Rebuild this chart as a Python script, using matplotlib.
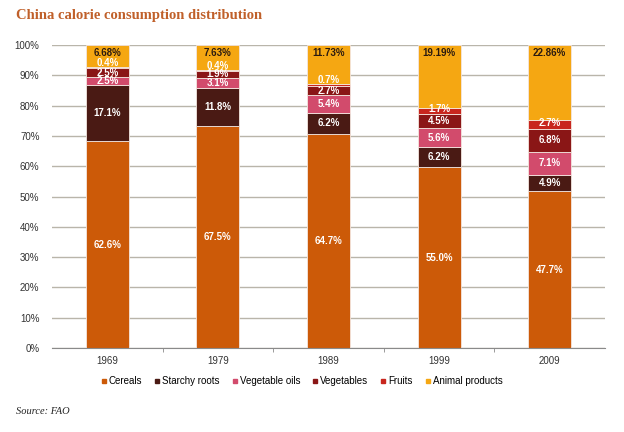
import matplotlib.pyplot as plt
import numpy as np
from matplotlib.lines import Line2D

plt.rcParams['font.family'] = ['Liberation Sans', 'DejaVu Sans']

years = ['1969', '1979', '1989', '1999', '2009']
categories = ['Cereals', 'Starchy roots', 'Vegetable oils', 'Vegetables', 'Fruits', 'Animal products']

cereals = [62.6, 67.5, 64.7, 55.0, 47.7]
starchy_roots = [17.1, 11.8, 6.2, 6.2, 4.9]
vegetable_oils = [2.5, 3.1, 5.4, 5.6, 7.1]
vegetables = [2.5, 1.9, 2.7, 4.5, 6.8]
fruits = [0.4, 0.4, 0.7, 1.7, 2.7]
animal_products = [6.68, 7.63, 11.73, 19.19, 22.86]

series = [cereals, starchy_roots, vegetable_oils, vegetables, fruits, animal_products]
colors = ['#CC5A08', '#4A1A14', '#D24B6C', '#8A1616', '#C8261E', '#F5A712']
labels_fmt = ['{:.1f}%'] * 5 + ['{:.2f}%']

fig = plt.figure(figsize=(6.24, 4.32), dpi=100)
ax = fig.add_axes([52 / 624, 1 - 348 / 432, 553 / 624, 303 / 432])

x = np.arange(len(years))
totals = np.sum(series, axis=0)
bottom = np.zeros(len(years))
for i, (vals, col) in enumerate(zip(series, colors)):
    share = np.array(vals) / totals * 100
    ax.bar(x, share, 0.39, bottom=bottom, color=col, edgecolor='#f4e6e0',
           linewidth=0.6, zorder=2)
    for j in range(len(years)):
        if i == 5:
            # animal products label sits near the top of the bar
            ax.annotate(labels_fmt[i].format(vals[j]), (x[j], 100), xytext=(0, -6),
                        textcoords='offset points', ha='center', va='center',
                        fontsize=7, fontweight='bold', color='#2a1a10', zorder=3)
        else:
            dy = 0
            if i == 4:
                dy = 3.5 if vals[j] < 1 else 1
            ax.annotate(labels_fmt[i].format(vals[j]), (x[j], bottom[j] + share[j] / 2),
                        xytext=(0, dy), textcoords='offset points', ha='center',
                        va='center', fontsize=7, fontweight='bold', color='white',
                        zorder=3)
    bottom += share

ax.set_xlim(-0.5, 4.5)
ax.set_ylim(0, 100)
ax.set_yticks(np.arange(0, 101, 10))
ax.set_yticklabels(['{}%'.format(v) for v in range(0, 101, 10)])
ax.set_xticks(x)
ax.set_xticklabels(years)
ax.set_xticks(np.arange(0.5, 4, 1), minor=True)
ax.tick_params(axis='x', which='major', length=0, pad=6, labelsize=7, colors='#333333')
ax.tick_params(axis='x', which='minor', length=3, color='#8a8a8a', direction='out')
ax.tick_params(axis='y', length=0, pad=9, labelsize=7, colors='#333333')
ax.yaxis.grid(True, color='#b9b5aa', linewidth=1, zorder=0)
ax.set_axisbelow(True)
for s in ['top', 'right', 'left']:
    ax.spines[s].set_visible(False)
ax.spines['bottom'].set_color('#8a8a8a')
ax.spines['bottom'].set_linewidth(0.8)

handles = [Line2D([0], [0], marker='s', linestyle='none', markersize=3.5,
                  markerfacecolor=c, markeredgecolor=c) for c in colors]
fig.legend(handles, categories, loc='center', bbox_to_anchor=(301 / 624, 1 - 381 / 432),
           ncol=6, frameon=False, fontsize=7, handletextpad=0.05, columnspacing=1.1,
           handlelength=0.9)

fig.text(16 / 624, 1 - 15 / 432, 'China calorie consumption distribution', fontsize=10.5,
         fontweight='bold', family='Liberation Serif', color='#C0602A', va='center')
fig.text(16 / 624, 1 - 411 / 432, 'Source: FAO', fontsize=7.5, style='italic',
         family='Liberation Serif', color='#222222', va='center')

fig.savefig('out.png', dpi=100)
